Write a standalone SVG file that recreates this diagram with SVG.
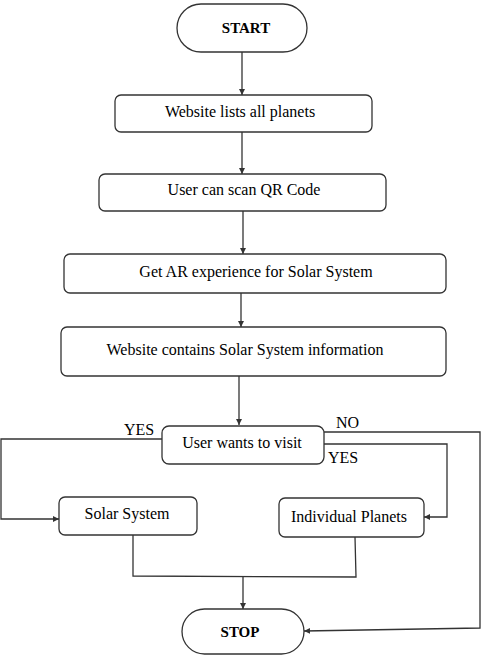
<svg xmlns="http://www.w3.org/2000/svg" width="484" height="665" viewBox="0 0 484 665">
<defs>
<marker id="ah" markerWidth="8" markerHeight="8" refX="6" refY="3" orient="auto" markerUnits="userSpaceOnUse">
<path d="M0,0 L6,3 L0,6 Z" fill="#333"/>
</marker>
<style>
.n{fill:#fff;stroke:#333;stroke-width:1.3}
.c{fill:none;stroke:#333;stroke-width:1.3}
</style>
</defs>
<rect width="484" height="665" fill="#fff"/>
<g id="connectors">
<path class="c" d="M242,52 V95" marker-end="url(#ah)"/>
<path class="c" d="M242,132 V174" marker-end="url(#ah)"/>
<path class="c" d="M243,211 V254" marker-end="url(#ah)"/>
<path class="c" d="M241,293 V327" marker-end="url(#ah)"/>
<path class="c" d="M239,376 V425" marker-end="url(#ah)"/>
<path class="c" d="M162,439 H1 V519 H59" marker-end="url(#ah)"/>
<path class="c" d="M324,444 H447 V517 H424" marker-end="url(#ah)"/>
<path class="c" d="M324,432 H480 V628 L304,631" marker-end="url(#ah)"/>
<path class="c" d="M133,535 V576 L356,577 L355,537"/>
<path class="c" d="M243,577 V609" marker-end="url(#ah)"/>
<text x="124" y="435" font-family="Liberation Serif" font-size="16" style="font-family:'Liberation Serif',serif">YES</text>
<text x="328" y="463" font-family="Liberation Serif" font-size="16" style="font-family:'Liberation Serif',serif">YES</text>
<text x="336" y="428" font-family="Liberation Serif" font-size="16" style="font-family:'Liberation Serif',serif">NO</text>
</g>
<g id="start">
<rect class="n" x="177" y="4" width="130" height="48" rx="24"/>
<text x="246" y="33" font-family="Liberation Serif" font-size="15" font-weight="bold" text-anchor="middle" style="font-family:'Liberation Serif',serif">START</text>
</g>
<g id="websiteLists">
<rect class="n" x="115" y="95" width="257" height="37" rx="6"/>
<text x="240" y="117" font-family="Liberation Serif" font-size="16" text-anchor="middle" style="font-family:'Liberation Serif',serif">Website lists all planets</text>
</g>
<g id="scanQR">
<rect class="n" x="99" y="174" width="287" height="37" rx="6"/>
<text x="244" y="195" font-family="Liberation Serif" font-size="16" text-anchor="middle" style="font-family:'Liberation Serif',serif">User can scan QR Code</text>
</g>
<g id="arExperience">
<rect class="n" x="64" y="254" width="382" height="39" rx="6"/>
<text x="256" y="277" font-family="Liberation Serif" font-size="16" text-anchor="middle" style="font-family:'Liberation Serif',serif">Get AR experience for Solar System</text>
</g>
<g id="websiteContains">
<rect class="n" x="61" y="327" width="385" height="49" rx="6"/>
<text x="245" y="355" font-family="Liberation Serif" font-size="16" text-anchor="middle" style="font-family:'Liberation Serif',serif">Website contains Solar System information</text>
</g>
<g id="decision">
<rect class="n" x="162" y="426" width="162" height="38" rx="7"/>
<text x="242" y="448" font-family="Liberation Serif" font-size="16" text-anchor="middle" style="font-family:'Liberation Serif',serif">User wants to visit</text>
</g>
<g id="solarSystem">
<rect class="n" x="59" y="497" width="138" height="38" rx="6"/>
<text x="127" y="519" font-family="Liberation Serif" font-size="16" text-anchor="middle" style="font-family:'Liberation Serif',serif">Solar System</text>
</g>
<g id="individualPlanets">
<rect class="n" x="279" y="498" width="145" height="39" rx="6"/>
<text x="349" y="522" font-family="Liberation Serif" font-size="16" text-anchor="middle" style="font-family:'Liberation Serif',serif">Individual Planets</text>
</g>
<g id="stop">
<rect class="n" x="182" y="609" width="122" height="45" rx="22.5"/>
<text x="240" y="637" font-family="Liberation Serif" font-size="15" font-weight="bold" text-anchor="middle" style="font-family:'Liberation Serif',serif">STOP</text>
</g>
</svg>
